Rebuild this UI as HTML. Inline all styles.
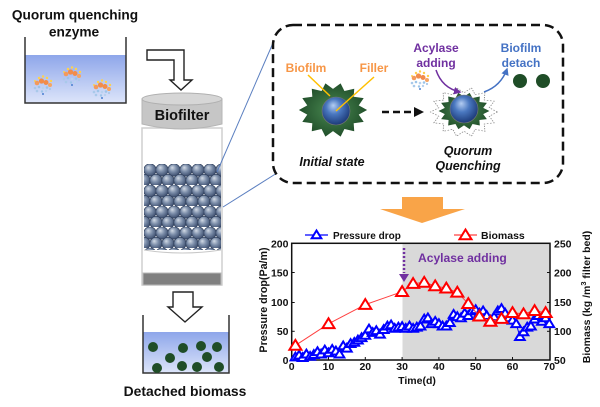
<!DOCTYPE html>
<html><head><meta charset="utf-8"><style>
html,body{margin:0;padding:0;background:#fff;}
svg{display:block;font-family:"Liberation Sans",Arial,sans-serif;}
</style></head><body>
<svg width="600" height="407" viewBox="0 0 600 407" xmlns="http://www.w3.org/2000/svg">
<defs>
<linearGradient id="liq" x1="0" y1="0" x2="0" y2="1"><stop offset="0" stop-color="#8ea6ea"/><stop offset="1" stop-color="#dde5fa"/></linearGradient>
<radialGradient id="ball" cx="0.45" cy="0.4" r="0.6" fx="0.4" fy="0.3"><stop offset="0" stop-color="#b4cdf2"/><stop offset="0.45" stop-color="#4a78c0"/><stop offset="1" stop-color="#1c3a78"/></radialGradient>
<radialGradient id="grn" cx="0.5" cy="0.5" r="0.55"><stop offset="0" stop-color="#4a8a52"/><stop offset="1" stop-color="#1e4a27"/></radialGradient>
<radialGradient id="bb" cx="0.45" cy="0.4" r="0.6" fx="0.35" fy="0.3"><stop offset="0" stop-color="#d3dbe6"/><stop offset="0.5" stop-color="#7a8ca8"/><stop offset="1" stop-color="#3b4c6c"/></radialGradient>
<pattern id="pb" x="144" y="164" width="12" height="21" patternUnits="userSpaceOnUse">
<circle cx="6" cy="6" r="6.2" fill="url(#bb)" stroke="#2c3c58" stroke-width="0.7"/>
<circle cx="0" cy="16.5" r="6.2" fill="url(#bb)" stroke="#2c3c58" stroke-width="0.7"/>
<circle cx="12" cy="16.5" r="6.2" fill="url(#bb)" stroke="#2c3c58" stroke-width="0.7"/>
</pattern>
<path id="tb" d="M0,-4.5 L4.8,3.3 L-4.8,3.3 Z" fill="#fff" stroke="#0000ff" stroke-width="2"/>
<path id="tr" d="M0,-5.5 L6,4.3 L-6,4.3 Z" fill="#fff" stroke="#ff0000" stroke-width="2"/>
<polygon id="star" points="31,0 23.4,5.3 27.9,13.5 18.8,15 19.3,24.2 10.4,21.6 6.9,30.2 0,24 -6.9,30.2 -10.4,21.6 -19.3,24.2 -18.8,15 -27.9,13.5 -23.4,5.3 -31,0 -23.4,-5.3 -27.9,-13.5 -18.8,-15 -19.3,-24.2 -10.4,-21.6 -6.9,-30.2 0,-24 6.9,-30.2 10.4,-21.6 19.3,-24.2 18.8,-15 27.9,-13.5 23.4,-5.3"/>
<g id="enz">
<circle cx="-4" cy="-7" r="1.2" fill="#ffd24a"/><circle cx="0" cy="-8.5" r="1.2" fill="#ffd24a"/><circle cx="4" cy="-7" r="1.2" fill="#ffd24a"/><circle cx="8" cy="-4" r="1.2" fill="#ffd24a"/><circle cx="-8" cy="-4" r="1" fill="#ffd24a"/>
<circle cx="-6" cy="-2" r="2.3" fill="#f39a5c"/><circle cx="-1.5" cy="-4" r="2.6" fill="#f28c4a"/><circle cx="3" cy="-2.5" r="2.5" fill="#f28c4a"/><circle cx="7" cy="0" r="2" fill="#f5a463"/>
<circle cx="-8" cy="3" r="1.3" fill="#a9c9ea"/><circle cx="-4" cy="2" r="1.3" fill="#9cc4e8"/><circle cx="0" cy="3" r="1.3" fill="#b8d2ee"/><circle cx="4" cy="2.5" r="1.3" fill="#9cc4e8"/><circle cx="-6" cy="6" r="1.3" fill="#a9c9ea"/><circle cx="-1" cy="6.5" r="1.2" fill="#9cc4e8"/><circle cx="3" cy="6" r="1.2" fill="#b8d2ee"/><circle cx="7" cy="4" r="1.1" fill="#a9c9ea"/><circle cx="0" cy="9" r="1" fill="#4a7fd0"/>
</g>
<marker id="ap" viewBox="0 0 10 10" refX="8" refY="5" markerWidth="5" markerHeight="5" orient="auto"><path d="M0,0 L10,5 L0,10 Z" fill="#7030a0"/></marker>
<marker id="ab" viewBox="0 0 10 10" refX="8" refY="5" markerWidth="5" markerHeight="5" orient="auto"><path d="M0,0 L10,5 L0,10 Z" fill="#4472c4"/></marker>
</defs>

<!-- Top-left text -->
<text x="75" y="19.5" font-size="13.7" font-weight="bold" text-anchor="middle" fill="#111">Quorum quenching</text>
<text x="74" y="36.5" font-size="13.7" font-weight="bold" text-anchor="middle" fill="#111">enzyme</text>

<!-- Beaker 1 -->
<rect x="25" y="55" width="101" height="48" fill="url(#liq)"/>
<path d="M25,37 V103 H126 V37" fill="none" stroke="#333" stroke-width="1.5"/>
<use href="#enz" x="43" y="85"/>
<use href="#enz" x="72" y="76"/>
<use href="#enz" x="102" y="89"/>

<!-- Bent hollow arrow -->
<path d="M147,50 H184 V80 H192 L181,90 L170,80 H174 V60 H147 Z" fill="#fff" stroke="#222" stroke-width="1.4"/>

<!-- Biofilter -->
<rect x="142" y="128" width="80" height="157" fill="#fff" stroke="#cfcfcf" stroke-width="1.5"/>
<path d="M142,99 V124 Q182,134 222,124 V99 Z" fill="#c6c6c6" stroke="#b5b5b5" stroke-width="1"/>
<ellipse cx="182" cy="99" rx="40" ry="6" fill="#d6d6d6" stroke="#b0b0b0" stroke-width="1"/>
<text x="182" y="120" font-size="14.5" font-weight="bold" text-anchor="middle" fill="#111">Biofilter</text>
<rect x="144" y="164" width="77" height="86" fill="url(#pb)"/>
<path d="M144,250 Q182,256 221,250" fill="none" stroke="#c8c8c8" stroke-width="1"/>
<rect x="143" y="273" width="78" height="12" fill="#808080" stroke="#b8b8b8" stroke-width="1"/>

<!-- connector lines -->
<line x1="217" y1="172" x2="273" y2="43" stroke="#5b7fc0" stroke-width="1"/>
<line x1="223" y1="207" x2="277" y2="173" stroke="#5b7fc0" stroke-width="1"/>

<!-- Down hollow arrow -->
<path d="M173,292 H193 V307 H202 L185,322 L168,307 H173 Z" fill="#fff" stroke="#222" stroke-width="1.4"/>

<!-- Beaker 2 -->
<rect x="143" y="332" width="86" height="41" fill="url(#liq)"/>
<path d="M143,315 V373 H229 V315" fill="none" stroke="#333" stroke-width="1.5"/>
<g fill="#1f4d27">
<circle cx="153" cy="347" r="5"/><circle cx="183" cy="348" r="5"/><circle cx="201" cy="346" r="5"/><circle cx="217" cy="347" r="5"/><circle cx="170" cy="358" r="5"/><circle cx="207" cy="357" r="5"/><circle cx="157" cy="368" r="5"/><circle cx="182" cy="366" r="5"/><circle cx="197" cy="367" r="5"/><circle cx="219" cy="367" r="5"/>
</g>
<text x="185" y="396" font-size="13.9" font-weight="bold" text-anchor="middle" fill="#111">Detached biomass</text>

<!-- Dashed box -->
<rect x="273" y="25" width="290" height="158" rx="20" ry="20" fill="none" stroke="#111" stroke-width="2.5" stroke-dasharray="9 5"/>

<!-- Initial particle -->
<use href="#star" transform="translate(333,110) scale(1.1,0.88)" fill="url(#grn)"/>
<circle cx="336" cy="111" r="14" fill="url(#ball)" stroke="#777" stroke-width="0.6"/>
<text x="306" y="72" font-size="12" font-weight="bold" text-anchor="middle" fill="#f79646">Biofilm</text>
<text x="374" y="72" font-size="12" font-weight="bold" text-anchor="middle" fill="#f79646">Filler</text>
<line x1="308" y1="75" x2="330" y2="96" stroke="#ffc000" stroke-width="1.5"/>
<line x1="374" y1="77" x2="336" y2="111" stroke="#ffc000" stroke-width="1.5"/>
<text x="332" y="166" font-size="12.5" font-weight="bold" font-style="italic" text-anchor="middle" fill="#111">Initial state</text>

<!-- dashed arrow -->
<line x1="382" y1="112" x2="415" y2="112" stroke="#111" stroke-width="2.5" stroke-dasharray="7 4"/>
<path d="M414,107 L424,112 L414,117 Z" fill="#111"/>

<!-- QQ particle -->
<use href="#star" transform="translate(464,112) scale(1.08,0.8)" fill="#fff" stroke="#8a8a8a" stroke-width="0.9" stroke-dasharray="1.5 1.5"/>
<use href="#star" transform="translate(464,111) scale(0.82,0.6)" fill="url(#grn)"/>
<circle cx="464" cy="109" r="14" fill="url(#ball)" stroke="#777" stroke-width="0.6"/>
<text x="436" y="52" font-size="12" font-weight="bold" text-anchor="middle" fill="#7030a0">Acylase</text>
<text x="436" y="67" font-size="12" font-weight="bold" text-anchor="middle" fill="#7030a0">adding</text>
<path d="M436,70 Q442,88 460,92" fill="none" stroke="#7030a0" stroke-width="1.5" marker-end="url(#ap)"/>
<use href="#enz" x="420" y="80"/>
<text x="521" y="52" font-size="12" font-weight="bold" text-anchor="middle" fill="#4472c4">Biofilm</text>
<text x="521" y="67" font-size="12" font-weight="bold" text-anchor="middle" fill="#4472c4">detach</text>
<path d="M484,92 Q501,86 507,69" fill="none" stroke="#4472c4" stroke-width="1.5" marker-end="url(#ab)"/>
<circle cx="520" cy="81" r="7" fill="#1f4d27"/>
<circle cx="543" cy="81" r="7" fill="#1f4d27"/>
<text x="468" y="155" font-size="12.5" font-weight="bold" font-style="italic" text-anchor="middle" fill="#111">Quorum</text>
<text x="468" y="170" font-size="12.5" font-weight="bold" font-style="italic" text-anchor="middle" fill="#111">Quenching</text>

<!-- Orange arrow -->
<polygon points="402,197 443,197 443,209 465,209 422,223 380,209 402,209" fill="#f9a448"/>

<!-- Chart -->
<rect x="402.5" y="243.3" width="147.5" height="116.7" fill="#d9d9d9"/>
<rect x="291.7" y="243.3" width="258.3" height="116.7" fill="none" stroke="#111" stroke-width="1.5"/>
<g stroke="#111" stroke-width="1">
<line x1="291.7" y1="331.3" x2="294.7" y2="331.3"/><line x1="291.7" y1="302.5" x2="294.7" y2="302.5"/><line x1="291.7" y1="272.5" x2="294.7" y2="272.5"/>
<line x1="550" y1="331.3" x2="547" y2="331.3"/><line x1="550" y1="302.5" x2="547" y2="302.5"/><line x1="550" y1="272.5" x2="547" y2="272.5"/>
<line x1="328.5" y1="360" x2="328.5" y2="357"/><line x1="365.3" y1="360" x2="365.3" y2="357"/><line x1="402.1" y1="360" x2="402.1" y2="357"/><line x1="438.9" y1="360" x2="438.9" y2="357"/><line x1="475.7" y1="360" x2="475.7" y2="357"/><line x1="512.5" y1="360" x2="512.5" y2="357"/>
</g>
<g font-size="10.5" font-weight="bold" fill="#111" text-anchor="end">
<text x="288.5" y="247.5">200</text><text x="288.5" y="276.5">150</text><text x="288.5" y="306">100</text><text x="288.5" y="335">50</text><text x="288.5" y="364">0</text>
</g>
<g font-size="10.5" font-weight="bold" fill="#111" text-anchor="start">
<text x="554" y="247.5">250</text><text x="554" y="276.5">200</text><text x="554" y="306">150</text><text x="554" y="335">100</text><text x="554" y="364">50</text>
</g>
<g font-size="10.5" font-weight="bold" fill="#111" text-anchor="middle">
<text x="291.7" y="370">0</text><text x="328.5" y="370">10</text><text x="365.3" y="370">20</text><text x="402.1" y="370">30</text><text x="438.9" y="370">40</text><text x="475.7" y="370">50</text><text x="512.5" y="370">60</text><text x="549.3" y="370">70</text>
</g>
<text x="417" y="384" font-size="10.5" font-weight="bold" text-anchor="middle" fill="#111">Time(d)</text>
<text transform="translate(267,300) rotate(-90)" font-size="10.7" font-weight="bold" text-anchor="middle" fill="#111">Pressure drop(Pa/m)</text>
<text transform="translate(590,297) rotate(-90)" font-size="10.5" font-weight="bold" text-anchor="middle" fill="#111">Biomass (kg /m<tspan font-size="7.5" dy="-4">3</tspan><tspan dy="4"> filter bed)</tspan></text>

<text x="418" y="262" font-size="12.1" font-weight="bold" fill="#7030a0">Acylase adding</text>
<line x1="404" y1="248" x2="404" y2="273" stroke="#7030a0" stroke-width="2.5" stroke-dasharray="2 2"/>
<path d="M399,274 L409,274 L404,282 Z" fill="#7030a0"/>

<!-- blue series -->
<polyline fill="none" stroke="#0000ff" stroke-width="1" points="295.4,357.1 299.1,355.3 302.7,357.7 306.4,354.2 310.1,356.5 313.8,354.7 317.5,351.8 321.1,354.2 324.8,350.1 328.5,353 332.2,349.5 335.9,351.2 339.5,354.2 343.2,346 346.9,348.3 350.6,343.7 354.3,342.5 357.9,340.2 361.6,337.8 365.3,335.5 369,329.1 372.7,332.6 376.3,330.8 380,334.3 383.7,329.7 387.4,326.2 391.1,325 394.7,328.5 398.4,327.3 402.1,326.7 405.8,328.5 409.5,326.2 413.1,328.5 416.8,327.3 420.5,326.2 424.2,319.2 427.9,318 431.5,323.8 435.2,321.5 438.9,323.8 442.6,326.2 446.3,326.2 449.9,322.7 453.6,314.5 457.3,316.8 461,318 464.7,313.3 468.3,315.7 472,311 475.7,309.8 479.4,313.3 483.1,311 486.7,315.7 490.4,320.3 494.1,316.8 497.8,311 501.5,308.7 505.1,313.3 508.8,318 512.5,320.3 516.2,323.8 519.9,336.7 523.5,332 527.2,327.3 530.9,326.2 534.6,319.2 538.3,315.7 541.9,321.5 545.6,318 549.3,323.8"/>
<g>
<use href="#tb" x="295.4" y="357.1"/><use href="#tb" x="299.1" y="355.3"/><use href="#tb" x="302.7" y="357.7"/><use href="#tb" x="306.4" y="354.2"/><use href="#tb" x="310.1" y="356.5"/><use href="#tb" x="313.8" y="354.7"/><use href="#tb" x="317.5" y="351.8"/><use href="#tb" x="321.1" y="354.2"/><use href="#tb" x="324.8" y="350.1"/><use href="#tb" x="328.5" y="353"/><use href="#tb" x="332.2" y="349.5"/><use href="#tb" x="335.9" y="351.2"/><use href="#tb" x="339.5" y="354.2"/><use href="#tb" x="343.2" y="346"/><use href="#tb" x="346.9" y="348.3"/><use href="#tb" x="350.6" y="343.7"/><use href="#tb" x="354.3" y="342.5"/><use href="#tb" x="357.9" y="340.2"/><use href="#tb" x="361.6" y="337.8"/><use href="#tb" x="365.3" y="335.5"/><use href="#tb" x="369" y="329.1"/><use href="#tb" x="372.7" y="332.6"/><use href="#tb" x="376.3" y="330.8"/><use href="#tb" x="380" y="334.3"/><use href="#tb" x="383.7" y="329.7"/><use href="#tb" x="387.4" y="326.2"/><use href="#tb" x="391.1" y="325"/><use href="#tb" x="394.7" y="328.5"/><use href="#tb" x="398.4" y="327.3"/><use href="#tb" x="402.1" y="326.7"/><use href="#tb" x="405.8" y="328.5"/><use href="#tb" x="409.5" y="326.2"/><use href="#tb" x="413.1" y="328.5"/><use href="#tb" x="416.8" y="327.3"/><use href="#tb" x="420.5" y="326.2"/><use href="#tb" x="424.2" y="319.2"/><use href="#tb" x="427.9" y="318"/><use href="#tb" x="431.5" y="323.8"/><use href="#tb" x="435.2" y="321.5"/><use href="#tb" x="438.9" y="323.8"/><use href="#tb" x="442.6" y="326.2"/><use href="#tb" x="446.3" y="326.2"/><use href="#tb" x="449.9" y="322.7"/><use href="#tb" x="453.6" y="314.5"/><use href="#tb" x="457.3" y="316.8"/><use href="#tb" x="461" y="318"/><use href="#tb" x="464.7" y="313.3"/><use href="#tb" x="468.3" y="315.7"/><use href="#tb" x="472" y="311"/><use href="#tb" x="475.7" y="309.8"/><use href="#tb" x="479.4" y="313.3"/><use href="#tb" x="483.1" y="311"/><use href="#tb" x="486.7" y="315.7"/><use href="#tb" x="490.4" y="320.3"/><use href="#tb" x="494.1" y="316.8"/><use href="#tb" x="497.8" y="311"/><use href="#tb" x="501.5" y="308.7"/><use href="#tb" x="505.1" y="313.3"/><use href="#tb" x="508.8" y="318"/><use href="#tb" x="512.5" y="320.3"/><use href="#tb" x="516.2" y="323.8"/><use href="#tb" x="519.9" y="336.7"/><use href="#tb" x="523.5" y="332"/><use href="#tb" x="527.2" y="327.3"/><use href="#tb" x="530.9" y="326.2"/><use href="#tb" x="534.6" y="319.2"/><use href="#tb" x="538.3" y="315.7"/><use href="#tb" x="541.9" y="321.5"/><use href="#tb" x="545.6" y="318"/><use href="#tb" x="549.3" y="323.8"/>
</g>

<!-- red series -->
<polyline fill="none" stroke="#ff4040" stroke-width="1" points="295.4,345.4 328.5,323.8 365.3,304.6 402.1,291.7 413.1,283.6 424.2,282.4 435.2,285.9 446.3,288.2 457.3,292.3 468.3,303.7 479.4,316.2 490.4,321.5 501.5,318.6 512.5,312.7 523.5,313.9 534.6,310.7 545.6,312.7"/>
<g>
<use href="#tr" x="295.4" y="345.4"/><use href="#tr" x="328.5" y="323.8"/><use href="#tr" x="365.3" y="304.6"/><use href="#tr" x="402.1" y="291.7"/><use href="#tr" x="413.1" y="283.6"/><use href="#tr" x="424.2" y="282.4"/><use href="#tr" x="435.2" y="285.9"/><use href="#tr" x="446.3" y="288.2"/><use href="#tr" x="457.3" y="292.3"/><use href="#tr" x="468.3" y="303.7"/><use href="#tr" x="479.4" y="316.2"/><use href="#tr" x="490.4" y="321.5"/><use href="#tr" x="501.5" y="318.6"/><use href="#tr" x="512.5" y="312.7"/><use href="#tr" x="523.5" y="313.9"/><use href="#tr" x="534.6" y="310.7"/><use href="#tr" x="545.6" y="312.7"/>
</g>

<!-- legend -->
<line x1="305" y1="235" x2="328" y2="235" stroke="#0000ff" stroke-width="1.2"/>
<use href="#tb" x="316.5" y="235"/>
<text x="333" y="239" font-size="10" font-weight="bold" fill="#111">Pressure drop</text>
<line x1="454" y1="235" x2="477" y2="235" stroke="#ff4040" stroke-width="1.2"/>
<use href="#tr" x="465.5" y="235"/>
<text x="481" y="239" font-size="10.5" font-weight="bold" fill="#111">Biomass</text>
</svg>
</body></html>
